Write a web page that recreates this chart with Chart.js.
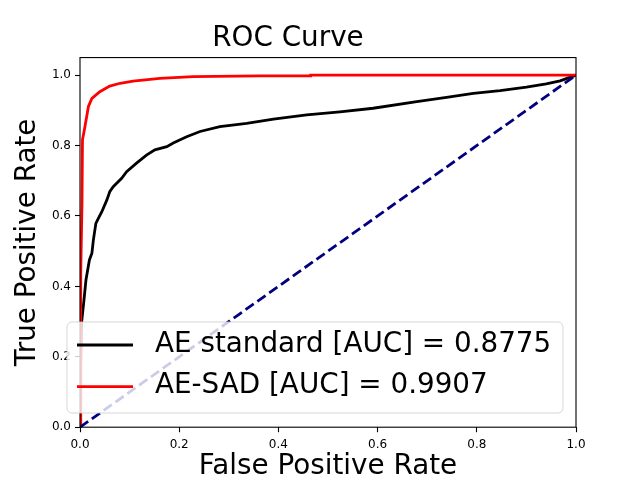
<!DOCTYPE html>
<html>
<head>
<meta charset="utf-8">
<script src="https://cdn.jsdelivr.net/npm/chart.js@4"></script>
<style>
  html, body { margin: 0; padding: 0; background: #fff; overflow: hidden; }
  canvas { display: block; }
</style>
</head>
<body>
<canvas id="rocChart" width="640" height="480"></canvas>
<script>
// ROC curves

const fprStandard = [0, 0.001, 0.003, 0.008, 0.012, 0.019, 0.024, 0.027, 0.032, 0.037, 0.044, 0.054, 0.060, 0.067,
  0.084, 0.094, 0.114, 0.134, 0.151, 0.175, 0.188, 0.215, 0.242, 0.282, 0.336, 0.39, 0.457, 0.524, 0.591,
  0.679, 0.739, 0.793, 0.847, 0.90, 0.94, 0.968, 1.0];
const tprStandard = [0, 0.15, 0.295, 0.361, 0.418, 0.475, 0.494, 0.532, 0.579, 0.593, 0.612, 0.645, 0.669, 0.683,
  0.707, 0.726, 0.75, 0.773, 0.788, 0.797, 0.807, 0.825, 0.84, 0.854, 0.863, 0.875, 0.887, 0.896, 0.906,
  0.925, 0.937, 0.948, 0.956, 0.966, 0.975, 0.984, 1.0];

const fprSad = [0, 0.001, 0.002, 0.004, 0.005, 0.010, 0.017, 0.024, 0.040, 0.060, 0.081, 0.107, 0.161, 0.228,
  0.363, 0.464, 0.465, 1.0];
const tprSad = [0, 0.30, 0.437, 0.636, 0.816, 0.854, 0.911, 0.934, 0.953, 0.969, 0.977, 0.983, 0.991, 0.996,
  0.998, 0.998, 1.0, 1.0];

const fprChance = [0, 1];
const tprChance = [0, 1];

const xTicks = [0, 0.2, 0.4, 0.6, 0.8, 1.0];
const yTicks = [0, 0.2, 0.4, 0.6, 0.8, 1.0];

const labelStandard = "AE standard [AUC] = 0.8775";
const labelSad = "AE-SAD [AUC] = 0.9907";

const FONT = "'DejaVu Sans', sans-serif";

function toPoints(xs, ys) {
  return xs.map((x, i) => ({ x: x, y: ys[i] }));
}

// matplotlib style frame around the plot area
const framePlugin = {
  id: "frame",
  afterDatasetsDraw(chart) {
    const { ctx, chartArea: a } = chart;
    ctx.save();
    ctx.strokeStyle = "#000";
    ctx.lineWidth = 1.1;
    ctx.strokeRect(a.left, a.top, a.right - a.left, a.bottom - a.top);
    ctx.restore();
  },
};

// legend drawn inside the axes, lower left, like plt.legend()
const innerLegend = {
  id: "innerLegend",
  afterDraw(chart) {
    const ctx = chart.ctx;
    const rows = chart.data.datasets.filter((d) => d.label);
    const x = 67, y = 322, w = 496, h = 91, r = 5;

    ctx.save();
    ctx.beginPath();
    ctx.roundRect(x, y, w, h, r);
    ctx.fillStyle = "rgba(255,255,255,0.8)";
    ctx.fill();
    ctx.strokeStyle = "rgba(204,204,204,0.8)";
    ctx.lineWidth = 1;
    ctx.stroke();

    ctx.font = "27.8px " + FONT;
    ctx.textBaseline = "middle";
    ctx.textAlign = "left";
    rows.forEach((d, i) => {
      const rowY = 345 + i * 41.7;
      ctx.beginPath();
      ctx.moveTo(77, rowY);
      ctx.lineTo(133, rowY);
      ctx.strokeStyle = d.borderColor;
      ctx.lineWidth = d.borderWidth;
      ctx.stroke();
      ctx.fillStyle = "#000";
      ctx.fillText(d.label, 155, rowY - 0.5);
    });
    ctx.restore();
  },
};

const ctx = document.getElementById("rocChart").getContext("2d");

new Chart(ctx, {
  type: "line",
  data: {
    datasets: [
      {
        label: labelStandard,
        data: toPoints(fprStandard, tprStandard),
        borderColor: "#000000",
        borderWidth: 2.8,
        order: 3,
      },
      {
        label: labelSad,
        data: toPoints(fprSad, tprSad),
        borderColor: "#ff0000",
        borderWidth: 2.8,
        order: 2,
      },
      {
        label: "",
        data: toPoints(fprChance, tprChance),
        borderColor: "#000080",
        borderWidth: 2.8,
        borderDash: [10, 4.5],
        order: 1,
      },
    ],
  },
  options: {
    responsive: false,
    animation: false,
    devicePixelRatio: 1,
    layout: { padding: { left: 0, right: 64, top: 0, bottom: 0 } },
    elements: {
      point: { radius: 0, hoverRadius: 0 },
      line: { tension: 0, fill: false },
    },
    plugins: {
      legend: { display: false },
      tooltip: { enabled: false },
      title: {
        display: true,
        text: "ROC Curve",
        color: "#000",
        font: { family: FONT, size: 27.8, weight: "normal", lineHeight: 1.2 },
        padding: { top: 22.5, bottom: 1.7 },
      },
    },
    scales: {
      x: {
        type: "linear",
        min: 0,
        max: 1,
        afterFit: (s) => { s.height = 52.8; },
        afterBuildTicks: (s) => { s.ticks = xTicks.map((v) => ({ value: v })); },
        grid: { drawOnChartArea: false, drawTicks: true, tickLength: 5, color: "#000", tickWidth: 1.1 },
        border: { display: false },
        ticks: {
          color: "#000",
          padding: 5,
          maxRotation: 0,
          font: { family: FONT, size: 12 },
          callback: (v) => v.toFixed(1),
        },
        title: {
          display: true,
          text: "False Positive Rate",
          color: "#000",
          font: { family: FONT, size: 27.8, lineHeight: 0.95 },
          padding: { top: 0, bottom: 0 },
        },
      },
      y: {
        type: "linear",
        min: 0,
        max: 1.05,
        afterFit: (s) => { s.width = 80; },
        afterBuildTicks: (s) => { s.ticks = yTicks.map((v) => ({ value: v })); },
        grid: { drawOnChartArea: false, drawTicks: true, tickLength: 5, color: "#000", tickWidth: 1.1 },
        border: { display: false },
        ticks: {
          color: "#000",
          padding: 4,
          font: { family: FONT, size: 12 },
          callback: (v) => v.toFixed(1),
        },
        title: {
          display: true,
          text: "True Positive Rate",
          color: "#000",
          font: { family: FONT, size: 27.8, lineHeight: 1.2 },
          padding: { top: 11, bottom: 0 },
        },
      },
    },
  },
  plugins: [framePlugin, innerLegend],
});
</script>
</body>
</html>
